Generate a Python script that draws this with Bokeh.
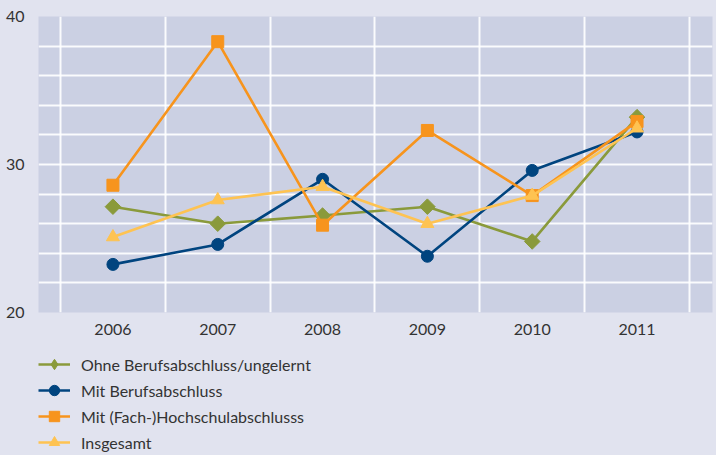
import math
from bokeh.plotting import figure
from bokeh.layouts import column
from bokeh.models import FixedTicker, Legend, LegendItem, Range1d
from bokeh.embed import file_html
from bokeh.resources import INLINE

years = [2006, 2007, 2008, 2009, 2010, 2011]
ohne = [27.15, 26.0, 26.55, 27.15, 24.8, 33.2]
mit_beruf = [23.25, 24.6, 29.0, 23.8, 29.6, 32.2]
mit_hoch = [28.6, 38.3, 25.9, 32.3, 27.9, 32.9]
insgesamt = [25.1, 27.6, 28.5, 26.0, 27.9, 32.45]

labels = ["Ohne Berufsabschluss/ungelernt", "Mit Berufsabschluss",
          "Mit (Fach-)Hochschulabschlusss", "Insgesamt"]
y_ticks = [20, 30, 40]
y_grid = [20, 22, 24, 26, 28, 30, 32, 34, 36, 38, 40]
x_grid = [2005.5, 2006.5, 2007.5, 2008.5, 2009.5, 2010.5, 2011.5]

FONT = "Lato"
TXT = "#333333"
BG = "#e1e3ef"
PLOT_BG = "#cbd0e3"

p = figure(width=716, height=343, output_backend="svg", toolbar_location=None,
           x_range=Range1d(2005.29, 2011.72), y_range=Range1d(20, 40),
           min_border_left=38, min_border_right=4, min_border_top=16,
           min_border_bottom=31)
p.background_fill_color = PLOT_BG
p.border_fill_color = BG
p.outline_line_color = None

p.xaxis.ticker = FixedTicker(ticks=years)
p.yaxis.ticker = FixedTicker(ticks=y_ticks)
for ax in (p.xaxis[0], p.yaxis[0]):
    ax.axis_line_color = None
    ax.major_tick_line_color = None
    ax.minor_tick_line_color = None
    ax.major_label_text_font = FONT
    ax.major_label_text_font_size = "16px"
    ax.major_label_text_color = TXT
p.xaxis.major_label_standoff = 5
p.yaxis.major_label_standoff = 8

p.xgrid.ticker = FixedTicker(ticks=x_grid)
p.ygrid.ticker = FixedTicker(ticks=y_grid)
for g in (p.xgrid[0], p.ygrid[0]):
    g.grid_line_color = "white"
    g.grid_line_width = 2
    g.grid_line_alpha = 0.9

series = [
    (ohne, "#8a9a3b", "square", 11, math.pi / 4, "diamond"),
    (mit_beruf, "#00447f", "circle", 12, 0, "circle"),
    (mit_hoch, "#f7941d", "square", 12, 0, "square"),
    (insgesamt, "#fec352", "triangle", 13, 0, "triangle"),
]

# legend-only figure (its own ranges keep the sample glyphs out of view)
leg = figure(width=716, height=112, output_backend="svg", toolbar_location=None,
             x_range=Range1d(0, 1), y_range=Range1d(0, 1),
             x_axis_location=None, y_axis_location=None,
             min_border_left=38, min_border_right=4, min_border_top=0,
             min_border_bottom=0)
leg.grid.visible = False
leg.background_fill_color = BG
leg.border_fill_color = BG
leg.outline_line_color = None

items = []
for (vals, col, mk, sz, ang, lmk), lab in zip(series, labels):
    p.line(years, vals, line_color=col, line_width=2.6)
    p.scatter(years, vals, marker=mk, size=sz, angle=ang,
              fill_color=col, line_color=col)
    ll = leg.line(years[:2], vals[:2], line_color=col, line_width=2.6)
    ls = leg.scatter(years[:1], vals[:1], marker=lmk, size=sz,
                     fill_color=col, line_color=col)
    items.append(LegendItem(label=lab, renderers=[ll, ls]))

legend = Legend(items=items, location="bottom_left", orientation="vertical",
                margin=0, padding=0, spacing=0, label_height=26, glyph_height=26,
                glyph_width=32, label_standoff=11,
                label_text_font=FONT, label_text_font_size="16px",
                label_text_color=TXT, background_fill_alpha=0,
                border_line_alpha=0)
leg.add_layout(legend, "center")

layout = column(p, leg, spacing=0, styles={"background-color": BG})
open("out.html", "w").write(file_html(layout, INLINE))
